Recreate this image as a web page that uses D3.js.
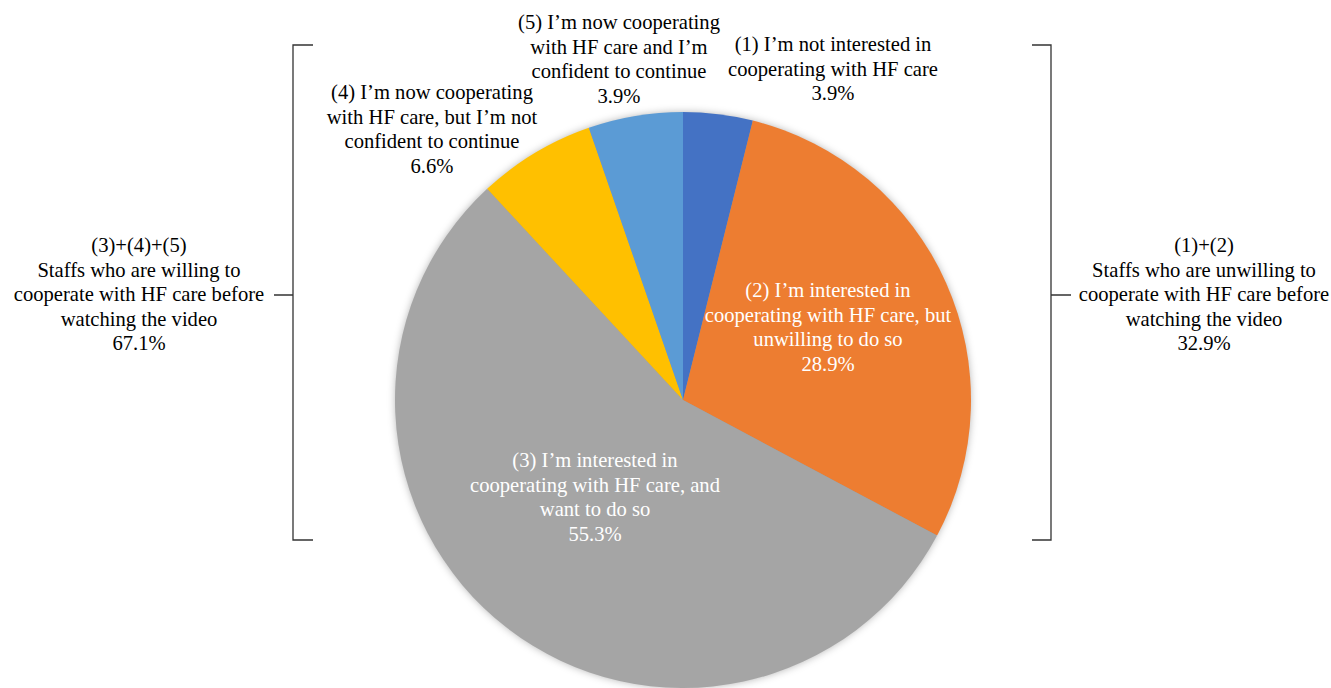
<!DOCTYPE html>
<html>
<head>
<meta charset="utf-8">
<script src="https://cdn.jsdelivr.net/npm/d3@7"></script>
<style>
  html, body { margin: 0; padding: 0; background: #fff; }
  svg { display: block; }
</style>
</head>
<body>
<svg id="chart" width="1331" height="688"></svg>
<script>
// slices, clockwise from 12 o'clock
const categories = ['(1)', '(2)', '(3)', '(4)', '(5)'];
const sliceValues = [3.9, 28.9, 55.3, 6.6, 5.3];
const percentLabels = ['3.9%', '28.9%', '55.3%', '6.6%', '3.9%'];
const labelLines = [
  ['(1) I\u2019m not interested in', 'cooperating with HF care'],
  ['(2) I\u2019m interested in', 'cooperating with HF care, but', 'unwilling to do so'],
  ['(3) I\u2019m interested in', 'cooperating with HF care, and', 'want to do so'],
  ['(4) I\u2019m now cooperating', 'with HF care, but I\u2019m not', 'confident to continue'],
  ['(5) I\u2019m now cooperating', 'with HF care and I\u2019m', 'confident to continue']
];
const colors = ['#4472C4', '#ED7D31', '#A5A5A5', '#FFC000', '#5B9BD5'];

const groupLines = [
  ['(3)+(4)+(5)', 'Staffs who are willing to', 'cooperate with HF care before', 'watching the video', '67.1%'],
  ['(1)+(2)', 'Staffs who are unwilling to', 'cooperate with HF care before', 'watching the video', '32.9%']
];

const svg = d3.select('#chart');
const cx = 683, cy = 400, R = 288;
const fontSize = 20.6, lineH = 24.5;
const fontFamily = "'Liberation Serif', 'Times New Roman', Times, serif";

const defs = svg.append('defs');
const f = defs.append('filter').attr('id', 'shadow')
  .attr('x', '-10%').attr('y', '-10%').attr('width', '120%').attr('height', '120%');
f.append('feDropShadow').attr('dx', 0).attr('dy', 0).attr('stdDeviation', 4)
  .attr('flood-color', '#000').attr('flood-opacity', 0.35);

const pie = d3.pie().sort(null).value(d => d);
const arcs = pie(sliceValues);
const arc = d3.arc().innerRadius(0).outerRadius(R);

const g = svg.append('g').attr('transform', `translate(${cx},${cy})`);
g.append('circle').attr('r', R - 1).attr('fill', '#999').attr('filter', 'url(#shadow)');
g.selectAll('path.slice').data(arcs).enter().append('path')
  .attr('class', 'slice')
  .attr('d', arc)
  .attr('fill', (d, i) => colors[i]);

// label anchor positions (centre of first line), relative to the page
const labelPos = [
  [833, 44], [828, 290], [595, 460], [432, 92], [619, 22]
];
const labelFill = ['#000', '#fff', '#fff', '#000', '#000'];

function block(x, y, lines, fill) {
  const t = svg.append('text')
    .attr('text-anchor', 'middle')
    .attr('font-family', fontFamily)
    .attr('font-size', fontSize)
    .attr('fill', fill);
  lines.forEach((s, k) => {
    t.append('tspan').attr('x', x).attr('y', y + k * lineH).attr('dy', '0.35em').text(s);
  });
}

categories.forEach((c, i) => {
  block(labelPos[i][0], labelPos[i][1], labelLines[i].concat([percentLabels[i]]), labelFill[i]);
});

// brackets
const brTop = 45, brBot = 540, brMid = 295;
const br = svg.append('g').attr('fill', 'none').attr('stroke', '#333').attr('stroke-width', 1.3);
br.append('path').attr('d', `M313,${brTop}H293V${brBot}H313M293,${brMid}H274`);
br.append('path').attr('d', `M1032,${brTop}H1051V${brBot}H1032M1051,${brMid}H1071`);

block(139, 245, groupLines[0], '#000');
block(1204, 245, groupLines[1], '#000');
</script>
</body>
</html>
